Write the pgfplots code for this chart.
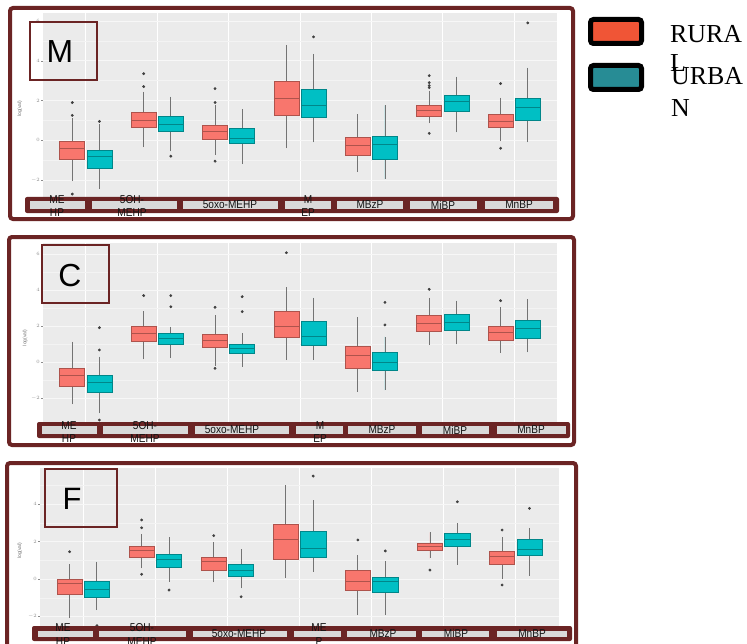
\documentclass[border=0pt]{standalone}
\usepackage{pgfplots}
\pgfplotsset{compat=1.18}
\usepgfplotslibrary{statistics}
\usepackage{fontspec}
\setmainfont{Liberation Sans}
\newfontfamily\legfont{Liberation Serif}
\newfontfamily\stripfont{Liberation Sans}[FakeStretch=0.88]
\definecolor{ggred}{HTML}{F8766D}
\definecolor{ggteal}{HTML}{00BFC4}
\definecolor{legred}{HTML}{F05536}
\definecolor{legteal}{HTML}{278C95}
\definecolor{frame}{HTML}{6B2424}
\definecolor{ggbg}{HTML}{EBEBEB}
\definecolor{stripgray}{HTML}{D9D9D9}
\pgfplotsset{
  ggpanel/.style={
    scale only axis, xmin=0.4, xmax=7.6,
    axis background/.style={fill=ggbg},
    axis line style={draw=none},
    xtick={1,...,7}, xticklabels={},
    xmajorgrids, ymajorgrids, yminorgrids,
    major grid style={white, line width=0.7pt},
    major y grid style={white!60!ggbg, line width=0.5pt},
    minor y grid style={white!40!ggbg, line width=0.3pt},
    tick style={black!45, line width=0.3pt},
    xtick style={draw=none},
    ytick pos=left, tick align=outside, major tick length=2bp, minor tick length=0pt,
    yticklabel style={font=\fontsize{4}{4}\selectfont, text=black!45, inner sep=1pt},
    ylabel={log(val)},
    ylabel style={font=\fontsize{5}{5}\selectfont, text=black!55, anchor=center},
    boxplot/draw direction=y,
    boxplot/box extend=0.35,
    boxplot/whisker extend=0,
    boxplot/every whisker/.style={draw=black!55, line width=0.9pt},
    boxplot/every median/.style={line width=1pt},
    clip=false,
  },
}
% #1 position, #2 colour, #3 lower whisker, #4 q1, #5 median, #6 q3, #7 upper whisker, #8 outliers
\newcommand{\bx}[8]{%
  \addplot[boxplot prepared={draw position=#1, lower whisker=#3, lower quartile=#4,
      median=#5, upper quartile=#6, upper whisker=#7},
    fill=#2, draw=#2!70!black, line width=0.6pt,
    mark=*, mark size=1.1pt, mark options={draw=black!75, fill=black!75}]
    coordinates {#8};
}
\tikzset{stxt/.style={font=\stripfont\fontsize{11.5}{13.5}\selectfont, align=center, inner sep=0pt, text=black!92}}
\begin{document}
\begin{tikzpicture}[x=1bp,y=1bp]
% ---------------- Panel M ----------------
\begin{axis}[ggpanel, at={(43bp,-197bp)}, anchor=south west, width=514bp, height=184bp,
  ymin=-2.85, ymax=6.4, ytick={-2,0,2,4,6}, minor ytick={-1,1,3,5},
  ylabel style={at={(axis description cs:-0.045,0.48)}}]
\bx{0.81}{ggred}{-2.05}{-0.95}{-0.4}{-0.05}{1.1}{(0,1.9) (0,1.25) (0,-2.7)}
\bx{1.19}{ggteal}{-2.45}{-1.4}{-0.8}{-0.5}{0.8}{(0,0.95)}
\bx{1.81}{ggred}{-0.35}{0.65}{1.0}{1.4}{2.45}{(0,3.35) (0,2.7)}
\bx{2.19}{ggteal}{-0.55}{0.45}{0.8}{1.2}{2.2}{(0,-0.8)}
\bx{2.81}{ggred}{-0.75}{0.05}{0.45}{0.75}{1.75}{(0,2.6) (0,1.9) (0,-1.05)}
\bx{3.19}{ggteal}{-1.2}{-0.15}{0.1}{0.6}{1.55}{}
\bx{3.81}{ggred}{-0.4}{1.25}{2.1}{2.95}{4.8}{}
\bx{4.19}{ggteal}{-0.1}{1.15}{1.75}{2.55}{4.35}{(0,5.2)}
\bx{4.81}{ggred}{-1.6}{-0.75}{-0.25}{0.15}{1.3}{}
\bx{5.19}{ggteal}{-1.95}{-0.95}{-0.2}{0.2}{1.75}{}
\bx{5.81}{ggred}{0.85}{1.2}{1.5}{1.75}{2.5}{(0,3.25) (0,2.9) (0,2.75) (0,2.65) (0,0.35)}
\bx{6.19}{ggteal}{0.4}{1.45}{1.95}{2.25}{3.2}{}
\bx{6.81}{ggred}{-0.05}{0.65}{0.95}{1.3}{2.15}{(0,2.85) (0,-0.4)}
\bx{7.19}{ggteal}{-0.1}{1.0}{1.65}{2.1}{3.65}{(0,5.9)}
\end{axis}
% ---------------- Panel C ----------------
\begin{axis}[ggpanel, at={(43bp,-422bp)}, anchor=south west, width=514bp, height=179bp,
  ymin=-3.33, ymax=6.61, ytick={-2,0,2,4,6}, minor ytick={-1,1,3,5},
  ylabel style={at={(axis description cs:-0.035,0.47)}}]
\bx{0.81}{ggred}{-2.35}{-1.32}{-0.76}{-0.32}{1.13}{}
\bx{1.19}{ggteal}{-2.85}{-1.69}{-1.13}{-0.76}{0.30}{(0,1.91) (0,0.67) (0,-3.22)}
\bx{1.81}{ggred}{0.15}{1.17}{1.59}{1.96}{2.83}{(0,3.69)}
\bx{2.19}{ggteal}{0.24}{0.98}{1.28}{1.59}{1.96}{(0,3.69) (0,3.07)}
\bx{2.81}{ggred}{-0.20}{0.80}{1.17}{1.54}{2.61}{(0,3.04) (0,-0.35)}
\bx{3.19}{ggteal}{-0.26}{0.48}{0.76}{0.98}{1.59}{(0,3.63) (0,2.80)}
\bx{3.81}{ggred}{0.11}{1.35}{1.96}{2.83}{4.15}{(0,6.07)}
\bx{4.19}{ggteal}{0.11}{0.94}{1.41}{2.24}{3.57}{}
\bx{4.81}{ggred}{-1.65}{-0.32}{0.39}{0.85}{2.48}{}
\bx{5.19}{ggteal}{-1.56}{-0.44}{-0.02}{0.54}{1.41}{(0,3.31) (0,2.06)}
\bx{5.81}{ggred}{0.94}{1.72}{2.15}{2.61}{3.57}{(0,4.04)}
\bx{6.19}{ggteal}{0.98}{1.78}{2.20}{2.65}{3.41}{}
\bx{6.81}{ggred}{0.52}{1.22}{1.65}{2.00}{3.04}{(0,3.41)}
\bx{7.19}{ggteal}{0.54}{1.31}{1.87}{2.33}{3.50}{}
\end{axis}
% ---------------- Panel F ----------------
\begin{axis}[ggpanel, at={(40bp,-627bp)}, anchor=south west, width=519bp, height=159bp,
  ymin=-2.57, ymax=5.94, ytick={-2,0,2,4}, minor ytick={-1,1,3,5},
  ylabel style={at={(axis description cs:-0.039,0.48)}}]
\bx{0.81}{ggred}{-2.10}{-0.80}{-0.23}{0.00}{0.78}{(0,1.46)}
\bx{1.19}{ggteal}{-1.66}{-0.98}{-0.55}{-0.14}{0.93}{(0,-2.50)}
\bx{1.81}{ggred}{0.57}{1.14}{1.55}{1.73}{2.41}{(0,3.16) (0,2.74) (0,0.25)}
\bx{2.19}{ggteal}{-0.14}{0.61}{1.02}{1.32}{2.23}{(0,-0.59)}
\bx{2.81}{ggred}{-0.18}{0.45}{0.96}{1.14}{1.99}{(0,2.32)}
\bx{3.19}{ggteal}{-0.50}{0.12}{0.48}{0.78}{1.59}{(0,-0.95)}
\bx{3.81}{ggred}{0.07}{1.07}{2.12}{2.92}{5.03}{}
\bx{4.19}{ggteal}{0.39}{1.14}{1.64}{2.53}{4.22}{(0,5.51)}
\bx{4.81}{ggred}{-1.93}{-0.59}{-0.14}{0.48}{1.28}{(0,2.09)}
\bx{5.19}{ggteal}{-1.93}{-0.73}{-0.14}{0.09}{0.96}{(0,1.50)}
\bx{5.81}{ggred}{1.11}{1.55}{1.76}{1.91}{2.50}{(0,0.48)}
\bx{6.19}{ggteal}{0.75}{1.73}{2.12}{2.44}{2.98}{(0,4.13)}
\bx{6.81}{ggred}{-0.02}{0.80}{1.23}{1.46}{2.26}{(0,2.62) (0,-0.32)}
\bx{7.19}{ggteal}{0.18}{1.28}{1.59}{2.14}{2.74}{(0,3.78)}
\end{axis}
% ---------------- strips ----------------
% M
\fill[frame, rounded corners=2bp] (25,-197) rectangle (559,-213);
\foreach \a/\b in {30/85, 92/177, 183/278, 285/331, 337/403, 410/477, 485/553}
  \fill[stripgray] (\a,-201) rectangle (\b,-208.5);
\node[stxt] at (57,-206) {ME\\HP};
\node[stxt] at (132,-206) {5OH-\\MEHP};
\node[stxt] at (230,-205) {5oxo-MEHP};
\node[stxt] at (308,-206) {M\\EP};
\node[stxt] at (370,-205) {MBzP};
\node[stxt] at (443,-205) {MiBP};
\node[stxt] at (519,-205) {MnBP};
% C
\fill[frame, rounded corners=2bp] (37,-422) rectangle (570,-438);
\foreach \a/\b in {42/97, 103/188, 195/289, 296/343, 348/416, 422/489, 497/566}
  \fill[stripgray] (\a,-426) rectangle (\b,-433.5);
\node[stxt] at (69,-432) {ME\\HP};
\node[stxt] at (145,-432) {5OH-\\MEHP};
\node[stxt] at (232,-430) {5oxo-MEHP};
\node[stxt] at (320,-432) {M\\EP};
\node[stxt] at (382,-430) {MBzP};
\node[stxt] at (455,-430) {MiBP};
\node[stxt] at (531,-430) {MnBP};
% F
\fill[frame, rounded corners=2bp] (32,-626) rectangle (572,-641);
\foreach \a/\b in {38/93, 99/186, 193/287, 294/341, 347/416, 422/489, 497/567}
  \fill[stripgray] (\a,-630.5) rectangle (\b,-637);
\node[stxt] at (63,-634.5) {ME\\HP};
\node[stxt] at (142,-634.5) {5OH-\\MEHP};
\node[stxt] at (239,-633.5) {5oxo-MEHP};
\node[stxt] at (319,-634.5) {ME\\P};
\node[stxt] at (383,-633.5) {MBzP};
\node[stxt] at (456,-633.5) {MiBP};
\node[stxt] at (532,-633.5) {MnBP};
% ---------------- frames ----------------
\draw[frame, line width=4bp, rounded corners=3bp] (10,-8) rectangle (573,-219);
\draw[frame, line width=4bp, rounded corners=3bp] (9,-237) rectangle (574,-445);
\draw[frame, line width=4bp, rounded corners=3bp] (7,-463) rectangle (576,-652);
% ---------------- panel labels ----------------
\draw[frame, line width=2bp] (30,-22) rectangle (97,-80);
\node[font=\fontsize{32}{32}\selectfont, inner sep=0pt] at (60,-52) {M};
\draw[frame, line width=2bp] (42,-245) rectangle (109,-303);
\node[font=\fontsize{32}{32}\selectfont, inner sep=0pt] at (70,-276) {C};
\draw[frame, line width=2bp] (45,-469) rectangle (117,-527);
\node[font=\fontsize{31}{31}\selectfont, inner sep=0pt] at (72,-499) {F};
% ---------------- legend ----------------
\draw[line width=5bp, rounded corners=3bp, fill=legred] (590.5,-19.5) rectangle (641.5,-43.5);
\draw[line width=5bp, rounded corners=3bp, fill=legteal] (590.5,-65.5) rectangle (641.5,-89.5);
\node[anchor=base west, inner sep=0pt, font=\legfont\fontsize{26}{26}\selectfont] at (670,-43) {RURA};
\node[anchor=base west, inner sep=0pt, font=\legfont\fontsize{26}{26}\selectfont] at (670,-72) {L};
\node[anchor=base west, inner sep=0pt, font=\legfont\fontsize{26}{26}\selectfont] at (671,-85) {URBA};
\node[anchor=base west, inner sep=0pt, font=\legfont\fontsize{26}{26}\selectfont] at (671,-117) {N};
\pgfresetboundingbox
\path[use as bounding box] (0,0) rectangle (747,-644);
\end{tikzpicture}
\end{document}
